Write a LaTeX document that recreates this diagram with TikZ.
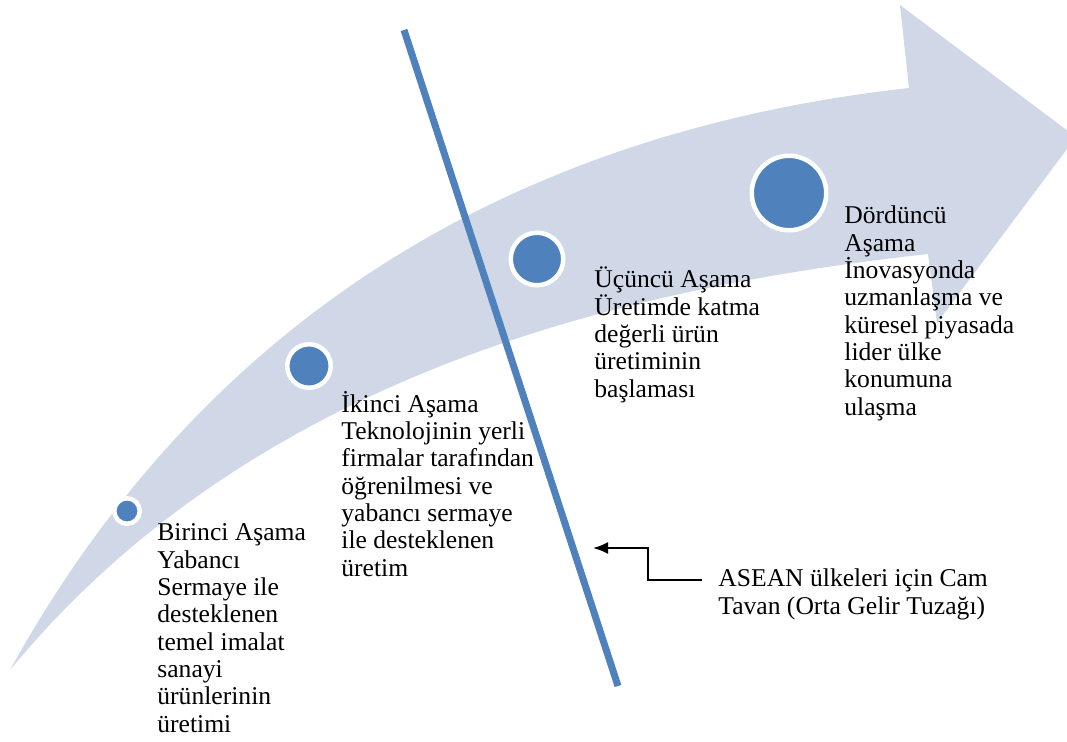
\documentclass[tikz,border=0pt]{standalone}
\usepackage{fontspec}
\setmainfont{Liberation Serif}
\usetikzlibrary{arrows.meta,positioning,calc}
\definecolor{bandfill}{HTML}{D0D8E8}
\definecolor{stageblue}{HTML}{4F81BD}
\tikzset{
stagetext/.style={
  inner sep=0pt,
  anchor=base west,
  align=left,
  font=\fontsize{12.8}{13.65}\selectfont
  },
stagedot/.style={
  circle,
  fill=stageblue,
  draw=white,
  line width=2.25pt,
  inner sep=0pt,
  minimum size=#1
  },
ceiling/.style={
  draw=stageblue,
  line width=3.5pt
  },
tuzak/.style={
  ->,
  line width=1pt
  }
}

\begin{document}
\begin{tikzpicture}[x=0.5pt,y=-0.5pt,>={Latex[length=7.5pt,width=6pt]}]

\useasboundingbox (0,0) rectangle (1067,741);
\clip (0,0) rectangle (1067,741);

\fill[bandfill] (10,670) .. controls (220,290) and (550,128) .. (909,88)
  -- (900,5) -- (1076,137) -- (937,323) -- (928,254)
  .. controls (600,290) and (245,385) .. (10,670) -- cycle;

\node[stagedot=12.75pt] (dot1) at (127,511) {};
\node[stagedot=21.75pt] (dot2) at (309,366) {};
\node[stagedot=26.25pt] (dot3) at (537,259) {};
\node[stagedot=37.25pt] (dot4) at (789,193) {};

\coordinate (ctop) at (404,30);
\coordinate (cbot) at (618,686);
\draw[ceiling] (ctop) -- (cbot);

\node[stagetext] (asama1) at (157,732)
{Birinci Aşama\\Yabancı\\Sermaye ile\\desteklenen\\temel imalat\\sanayi\\ürünlerinin\\üretimi};

\node[stagetext] (asama2) at (341,576)
{İkinci Aşama\\Teknolojinin yerli\\firmalar tarafından\\öğrenilmesi ve\\yabancı sermaye\\ile desteklenen\\üretim};

\node[stagetext] (asama3) at (594,397)
{Üçüncü Aşama\\Üretimde katma\\değerli ürün\\üretiminin\\başlaması};

\node[stagetext] (asama4) at (844,415)
{Dördüncü\\Aşama\\İnovasyonda\\uzmanlaşma ve\\küresel piyasada\\lider ülke\\konumuna\\ulaşma};

\node[stagetext] (asean) at (718,614)
{ASEAN ülkeleri için Cam\\Tavan (Orta Gelir Tuzağı)};

\coordinate (ceil) at (593,548);
\draw[tuzak] ($(asean.base west)+(-16,-34)$) -- ++(-54,0) |- (ceil);

\end{tikzpicture}
\end{document}
